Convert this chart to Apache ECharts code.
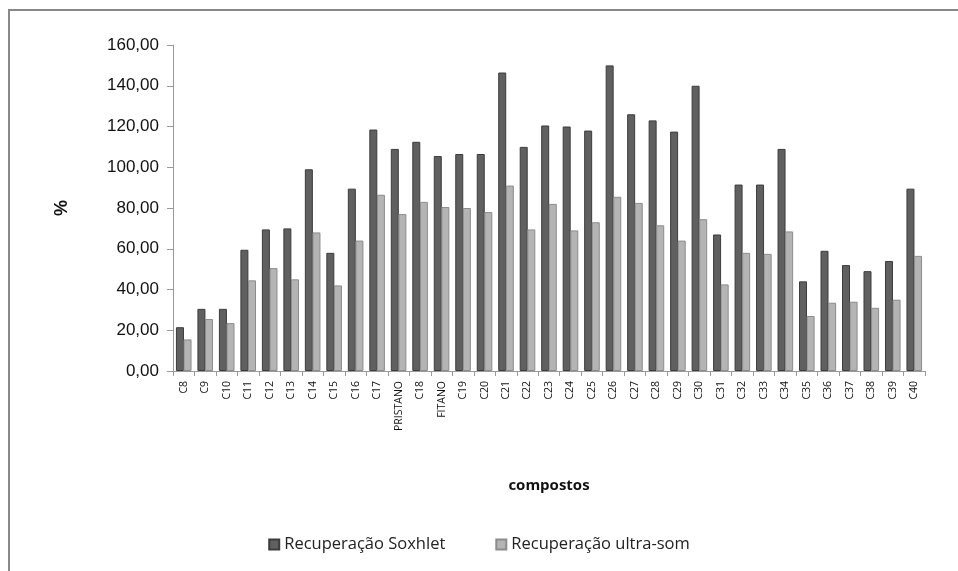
<!DOCTYPE html>
<html>
<head>
<meta charset="utf-8">
<script src="https://cdn.jsdelivr.net/npm/echarts@6/dist/echarts.min.js"></script>
<style>html,body{margin:0;padding:0;background:#fff}#c{width:958px;height:571px}</style>
</head>
<body>
<div id="c"></div>
<script>
const categories = ['C8','C9','C10','C11','C12','C13','C14','C15','C16','C17','PRISTANO','C18','FITANO','C19','C20','C21','C22','C23','C24','C25','C26','C27','C28','C29','C30','C31','C32','C33','C34','C35','C36','C37','C38','C39','C40'];
const soxhlet = [21.5,30.5,30.5,59.5,69.5,70,99,58,89.5,118.5,109,112.5,105.5,106.5,106.5,146.5,110,120.5,120,118,150,126,123,117.5,140,67,91.5,91.5,109,44,59,52,49,54,89.5];
const ultrassom = [15.5,25.5,23.5,44.5,50.5,45,68,42,64,86.5,77,83,80.5,80,78,91,69.5,82,69,73,85.5,82.5,71.5,64,74.5,42.5,58,57.5,68.5,27,33.5,34,31,35,56.5];
const yTicks = {min:0, max:160, interval:20};

const chart = echarts.init(document.getElementById('c'));
chart.setOption({
  animation:false,
  backgroundColor:'#fff',
  graphic:[{type:'rect',shape:{x:9,y:10,width:960,height:570},style:{fill:'none',stroke:'#888',lineWidth:2},z:-1}],
  grid:{left:173,right:33,top:45,bottom:200},
  legend:{
    bottom:13,left:'center',icon:'rect',itemWidth:10,itemHeight:10,itemGap:50,
    textStyle:{fontFamily:'Open Sans',fontSize:16.5,color:'#222'},
    data:['Recuperação Soxhlet','Recuperação ultra-som']
  },
  xAxis:{
    type:'category',data:categories,
    name:'compostos',nameLocation:'middle',nameGap:107,
    nameTextStyle:{fontFamily:'Open Sans',fontWeight:'bold',fontSize:15,color:'#111'},
    axisLine:{lineStyle:{color:'#999',width:1}},
    axisTick:{show:true,length:5,lineStyle:{color:'#999'}},
    axisLabel:{rotate:90,interval:0,fontFamily:'Open Sans',fontSize:10.5,color:'#111',margin:10}
  },
  yAxis:{
    type:'value',min:yTicks.min,max:yTicks.max,interval:yTicks.interval,
    name:'%',nameLocation:'middle',nameGap:102,nameRotate:90,
    nameTextStyle:{fontFamily:'Liberation Sans',fontWeight:'bold',fontSize:18,color:'#111'},
    axisLine:{show:true,lineStyle:{color:'#999'}},
    axisTick:{show:true,inside:false,length:6,lineStyle:{color:'#999'}},
    splitLine:{show:false},
    axisLabel:{fontFamily:'Liberation Sans',fontSize:17,color:'#111',margin:14,
      formatter:v=>v.toFixed(2).replace('.',',')}
  },
  series:[
    {name:'Recuperação Soxhlet',type:'bar',data:soxhlet,barWidth:8,barGap:'-5%',
     itemStyle:{color:'#606060',borderColor:'#3c3c3c',borderWidth:1}},
    {name:'Recuperação ultra-som',type:'bar',data:ultrassom,barWidth:8,
     itemStyle:{color:'#b4b4b4',borderColor:'#8c8c8c',borderWidth:1}}
  ]
});
</script>
</body>
</html>
